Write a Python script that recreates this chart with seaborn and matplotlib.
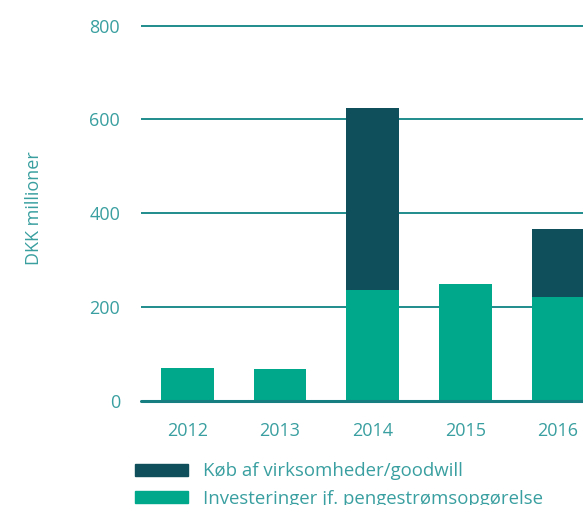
import matplotlib
matplotlib.use("Agg")
import matplotlib.pyplot as plt
import seaborn as sns
import pandas as pd
from matplotlib.patches import Patch

years = ["2012", "2013", "2014", "2015", "2016"]
investeringer = [70, 67, 236, 248, 222]
opkoeb = [0, 0, 388, 0, 145]
yticks = [0, 200, 400, 600, 800]

green = "#00a88b"
dark = "#0e4f5b"
text_col = "#3a9fa0"
grid_col = "#1f8c8c"
fs = 13

sns.set_theme(style="white")
plt.rcParams["font.family"] = ["Open Sans", "DejaVu Sans"]

df = pd.DataFrame({"år": years, "inv": investeringer,
                   "total": [a + b for a, b in zip(investeringer, opkoeb)]})

fig = plt.figure(figsize=(5.83, 5.05), dpi=100)
px_per_unit = 375 / 800
ylim_top = 820
ax = fig.add_axes([141 / 583, (505 - 400.7) / 505, 1 - 141 / 583,
                   ylim_top * px_per_unit / 505])

sns.barplot(data=df, x="år", y="total", color=dark, width=0.57,
            linewidth=0, saturation=1, ax=ax, zorder=3)
sns.barplot(data=df, x="år", y="inv", color=green, width=0.57,
            linewidth=0, saturation=1, ax=ax, zorder=3)

ax.set_xlim(-0.5, 4.27)
ax.set_ylim(0, ylim_top)
ax.set_yticks(yticks)
ax.set_yticklabels([str(v) for v in yticks])
for v in yticks[1:]:
    ax.axhline(v, color=grid_col, lw=1.4, zorder=1)
ax.axhline(0, color="#167e80", lw=2.2, zorder=4, clip_on=False)

for s in ax.spines.values():
    s.set_visible(False)
ax.tick_params(axis="both", length=0, colors=text_col, labelsize=fs)
ax.tick_params(axis="y", pad=15)
ax.tick_params(axis="x", pad=15)
ax.set_xlabel("")
ax.set_ylabel("DKK millioner", color=text_col, fontsize=fs)
ax.yaxis.set_label_coords(-0.222, 0.5)

handles = [Patch(color=dark, label="Køb af virksomheder/goodwill"),
           Patch(color=green, label="Investeringer jf. pengestrømsopgørelse")]
leg = fig.legend(handles=handles, loc="upper left",
                 bbox_to_anchor=(128 / 583, 1 - 455 / 505),
                 frameon=False, fontsize=13.4, handlelength=2.85,
                 handleheight=0.65, handletextpad=0.78, labelspacing=0.5,
                 labelcolor=text_col, borderaxespad=0)

fig.savefig("out.png", dpi=100)
